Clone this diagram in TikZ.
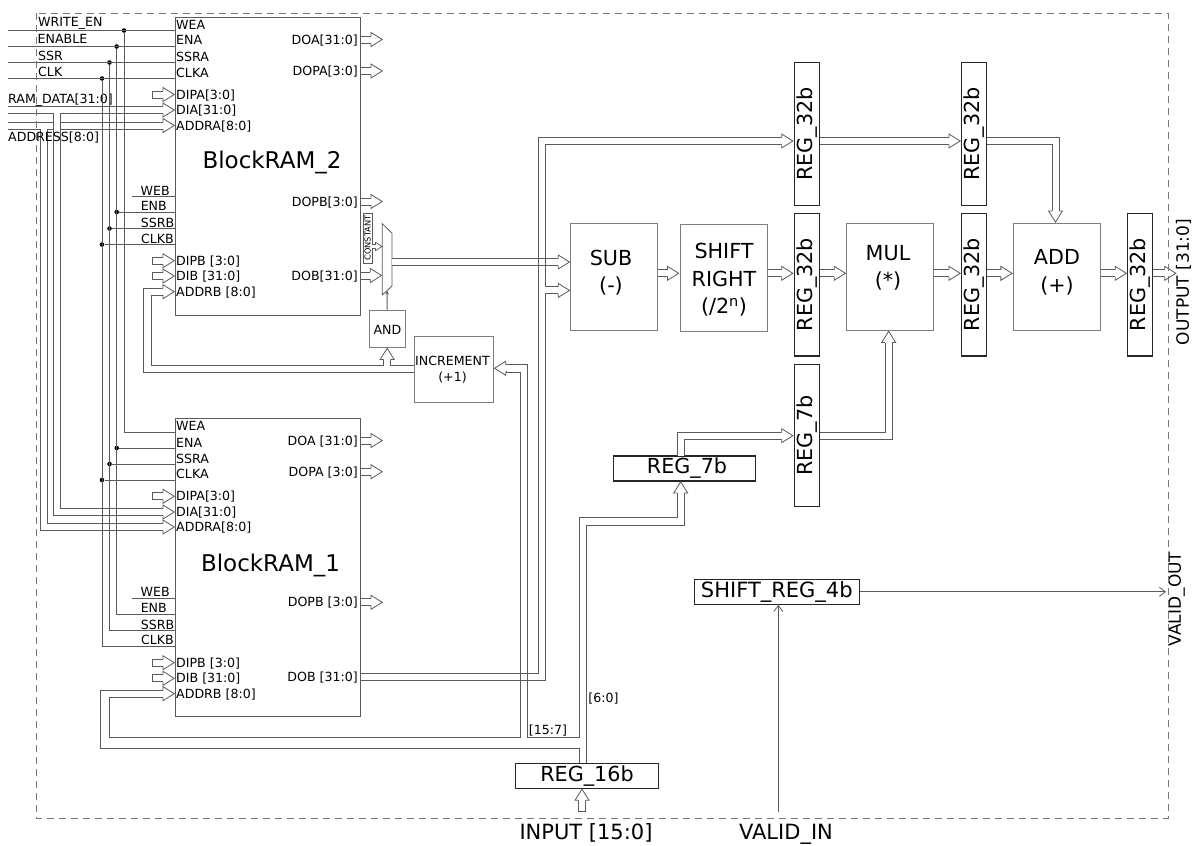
\documentclass[tikz,border=0pt]{standalone}
\usepackage{fontspec}
\setmainfont{DejaVu Sans}
\usetikzlibrary{arrows,arrows.meta,positioning,calc}
\definecolor{wiregray}{RGB}{90,90,90}
\definecolor{boxgray}{RGB}{125,125,125}
\definecolor{framegray}{RGB}{120,120,120}

% hollow bus arrow heads
\pgfarrowsdeclare{bushead}{bushead}
{\pgfarrowsleftextend{0pt}\pgfarrowsrightextend{12pt}}
{\pgfsetlinewidth{0.8pt}\pgfsetmiterjoin
 \pgfsetfillcolor{white}
 \pgfpathmoveto{\pgfpoint{0pt}{7pt}}\pgfpathlineto{\pgfpoint{11.2pt}{0pt}}\pgfpathlineto{\pgfpoint{0pt}{-7pt}}\pgfpathclose
 \pgfusepathqfill
 \pgfpathmoveto{\pgfpoint{0pt}{3.5pt}}\pgfpathlineto{\pgfpoint{0pt}{7pt}}\pgfpathlineto{\pgfpoint{11.2pt}{0pt}}\pgfpathlineto{\pgfpoint{0pt}{-7pt}}\pgfpathlineto{\pgfpoint{0pt}{-3.5pt}}
 \pgfusepathqstroke}
\pgfarrowsdeclare{busheadsmall}{busheadsmall}
{\pgfarrowsleftextend{0pt}\pgfarrowsrightextend{7pt}}
{\pgfsetlinewidth{0.7pt}\pgfsetmiterjoin
 \pgfsetfillcolor{white}
 \pgfpathmoveto{\pgfpoint{0pt}{4.2pt}}\pgfpathlineto{\pgfpoint{6.4pt}{0pt}}\pgfpathlineto{\pgfpoint{0pt}{-4.2pt}}\pgfpathclose
 \pgfusepathqfill
 \pgfpathmoveto{\pgfpoint{0pt}{2pt}}\pgfpathlineto{\pgfpoint{0pt}{4.2pt}}\pgfpathlineto{\pgfpoint{6.4pt}{0pt}}\pgfpathlineto{\pgfpoint{0pt}{-4.2pt}}\pgfpathlineto{\pgfpoint{0pt}{-2pt}}
 \pgfusepathqstroke}
\pgfarrowsdeclare{bustail}{bustail}
{\pgfarrowsleftextend{0.4pt}\pgfarrowsrightextend{0pt}}
{\pgfsetlinewidth{0.8pt}
 \pgfpathmoveto{\pgfpoint{0pt}{4pt}}\pgfpathlineto{\pgfpoint{0pt}{-4pt}}
 \pgfusepathqstroke}

\begin{document}
\begin{tikzpicture}[
    x=1pt, y=-1pt,
    ramblock/.style={rectangle, draw=wiregray, line width=1pt, inner sep=0pt, minimum width=185pt, minimum height=298pt},
    alublock/.style={rectangle, draw=boxgray, line width=0.9pt, inner sep=0pt},
    regv/.style={rectangle, draw=black!85, line width=1.1pt, inner sep=0pt, minimum width=25pt, font=\fontsize{20.7}{24}\selectfont},
    regh/.style={rectangle, draw=black!85, line width=1.1pt, inner sep=0pt, minimum height=25pt, font=\fontsize{20.7}{24}\selectfont},
    ramname/.style={inner sep=0pt, font=\fontsize{23}{27}\selectfont},
    blocktxt/.style={inner sep=0pt, align=center, font=\fontsize{20.7}{27.5}\selectfont},
    smalltxt/.style={inner sep=0pt, align=center, font=\fontsize{12.6}{16}\selectfont},
    outsidetxt/.style={inner sep=0pt, font=\fontsize{21}{24}\selectfont},
    sidetxt/.style={inner sep=0pt, font=\fontsize{17}{20}\selectfont},
    portl/.style={anchor=west, inner ysep=0pt, inner xsep=1pt, text height=9.2pt, text depth=0pt, font=\fontsize{12.6}{15}\selectfont},
    portr/.style={anchor=east, inner ysep=0pt, inner xsep=1pt, text height=9.2pt, text depth=0pt, font=\fontsize{12.6}{15}\selectfont},
    jdot/.style={circle, fill=black, inner sep=0pt, minimum size=4.6pt},
    wire/.style={draw=wiregray, line width=0.8pt},
    sigwire/.style={draw=wiregray, line width=0.8pt, -{Straight Barb[length=6pt,width=9pt]}},
    buswire/.style={draw=wiregray, line width=1pt, double=white, double distance=6pt, -bushead},
    busstub/.style={buswire, bustail-bushead},
    constbus/.style={draw=wiregray, line width=1pt, double=white, double distance=3pt, -busheadsmall},
    frame/.style={draw=framegray, line width=0.9pt, dash pattern=on 7pt off 5pt}
]
\useasboundingbox (0,0) rectangle (1200,846);

% Memories
\node[ramblock] (ramtwo) at (267.5,166) {};
\node[ramblock] (ramone) at (267.5,567.5) {};
\node[ramname] (ramtwoname) at (272,162) {BlockRAM\_2};
\node[ramname] (ramonename) at (270.5,565) {BlockRAM\_1};

% Ports of BlockRAM_2
\node[portl] (r2wea) at (175,24.5) {WEA};
\node[portl] (r2ena) at (175,40) {ENA};
\node[portl] (r2ssra) at (175,57) {SSRA};
\node[portl] (r2clka) at (175,72.5) {CLKA};
\node[portl] (r2dipa) at (175,94.5) {DIPA[3:0]};
\node[portl] (r2dia) at (175,110) {DIA[31:0]};
\node[portl] (r2addra) at (175,125.5) {ADDRA[8:0]};
\node[portr] (r2web) at (171,190.5) {WEB};
\node[portr] (r2enb) at (168,206) {ENB};
\node[portr] (r2ssrb) at (175.5,223) {SSRB};
\node[portr] (r2clkb) at (175,239) {CLKB};
\node[portl] (r2dipb) at (175,260.7) {DIPB [3:0]};
\node[portl] (r2dib) at (175,276) {DIB [31:0]};
\node[portl] (r2addrb) at (175,291.7) {ADDRB [8:0]};
\node[portr] (r2doa) at (359,39.5) {DOA[31:0]};
\node[portr] (r2dopa) at (359,71) {DOPA[3:0]};
\node[portr] (r2dopb) at (359,201.5) {DOPB[3:0]};
\node[portr] (r2dob) at (359,275.5) {DOB[31:0]};

% Ports of BlockRAM_1
\node[portl] (r1wea) at (175,426) {WEA};
\node[portl] (r1ena) at (175,442.5) {ENA};
\node[portl] (r1ssra) at (175,458.7) {SSRA};
\node[portl] (r1clka) at (175,474) {CLKA};
\node[portl] (r1dipa) at (175,496.3) {DIPA[3:0]};
\node[portl] (r1dia) at (175,512) {DIA[31:0]};
\node[portl] (r1addra) at (175,527) {ADDRA[8:0]};
\node[portr] (r1web) at (171,592) {WEB};
\node[portr] (r1enb) at (168,608) {ENB};
\node[portr] (r1ssrb) at (175.5,624.7) {SSRB};
\node[portr] (r1clkb) at (175,640) {CLKB};
\node[portl] (r1dipb) at (175,662.7) {DIPB [3:0]};
\node[portl] (r1dib) at (175,678.3) {DIB [31:0]};
\node[portl] (r1addrb) at (175,693.7) {ADDRB [8:0]};
\node[portr] (r1doa) at (359,440.5) {DOA [31:0]};
\node[portr] (r1dopa) at (359,471.7) {DOPA [3:0]};
\node[portr] (r1dopb) at (359,602.3) {DOPB [3:0]};
\node[portr] (r1dob) at (359,676.5) {DOB [31:0]};

% Outside signals
\coordinate (wrenin) at (8,30.5);
\coordinate (enin) at (8,46.5);
\coordinate (ssrin) at (8,62.5);
\coordinate (clkin) at (8,78.5);
\coordinate (datain) at (8,110);
\coordinate (addrin) at (8,125.5);
\coordinate (datatap) at (56.5,113);
\coordinate (addrtap) at (43.5,129);

% Multiplexer and small gates
\node[inner sep=0pt, minimum width=9.2pt, minimum height=70.7pt] (mux) at (387.1,259.3) {};
\draw[wire, fill=white] (mux.north west) -- ($(mux.north east)+(0,9.3)$) -- ($(mux.south east)+(0,-8.7)$) -- (mux.south west) -- cycle;
\node[rectangle, draw=wiregray, line width=0.7pt, inner sep=0pt, minimum width=8.5pt, minimum height=50pt, font=\fontsize{8.2}{9}\selectfont] (constbox) at (367.7,238) {\rotatebox{90}{CONSTANT}};
\node[alublock, minimum width=35.7pt, minimum height=36.3pt] (andgate) at (387.15,328.85) {};
\node[smalltxt] (andtxt) at (387.5,330) {AND};
\node[alublock, minimum width=79.4pt, minimum height=66.3pt] (inc) at (454,369.15) {};
\node[smalltxt] (inctxt) at (452.5,369.7) {INCREMENT\\(+1)};

% Processing chain
\node[alublock, minimum width=87pt, minimum height=106.7pt] (sub) at (614.2,276.7) {};
\node[blocktxt] (subtxt) at (611,272.5) {SUB\\(-)};
\node[alublock, minimum width=87.3pt, minimum height=107pt] (shiftr) at (723.6,277.5) {};
\node[blocktxt] (shifttxt) at (724,280) {SHIFT\\RIGHT\\(/2\textsuperscript{n})};
\node[alublock, minimum width=87pt, minimum height=106.7pt] (mul) at (890.2,276.7) {};
\node[blocktxt] (multxt) at (888,268) {MUL\\(*)};
\node[alublock, minimum width=87pt, minimum height=106.7pt] (adder) at (1056.8,276.7) {};
\node[blocktxt] (addtxt) at (1057,272.5) {ADD\\(+)};

% Registers
\node[regv, minimum height=142.6pt] (regtopa) at (806.7,134) {\rotatebox{90}{REG\_32b}};
\node[regv, minimum height=142.6pt] (regtopb) at (974,134) {\rotatebox{90}{REG\_32b}};
\node[regv, minimum height=142.6pt] (regsub) at (806.7,284.7) {\rotatebox{90}{REG\_32b}};
\node[regv, minimum height=142.6pt] (regmul) at (974,284.7) {\rotatebox{90}{REG\_32b}};
\node[regv, minimum height=142.6pt] (regadd) at (1140.2,284.7) {\rotatebox{90}{REG\_32b}};
\node[regv, minimum height=142pt] (regsevenv) at (806.7,435.7) {\rotatebox{90}{REG\_7b}};
\node[regh, minimum width=142.4pt] (regsevenh) at (684.5,468.5) {\hspace*{5pt}REG\_7b};
\node[regh, minimum width=142.6pt] (regsixteen) at (587,776) {REG\_16b};
\node[regh, minimum width=165pt, font=\fontsize{21}{24}\selectfont] (regvalid) at (776.8,591.8) {SHIFT\_REG\_4b};

% Labels round the frame
\node[outsidetxt] (inputlab) at (586,833) {INPUT [15:0]};
\node[outsidetxt] (validinlab) at (786,834) {VALID\_IN};
\node[sidetxt] (outputlab) at (1183.5,282) {\rotatebox{90}{OUTPUT [31:0]}};
\node[sidetxt] (validoutlab) at (1176.5,599) {\rotatebox{90}{VALID\_OUT}};
\node[smalltxt] (hilab) at (548,730.5) {[15:7]};
\node[smalltxt] (lolab) at (603.5,698.5) {[6:0]};

% Free ends and bends
\coordinate (chain) at (0,273.3);
\coordinate (feed) at (541.7,141);
\coordinate (feedtap) at (545,290.4);
\coordinate (muxout) at (391.7,262);
\coordinate (constout) at (382.5,246.5);
\coordinate (outend) at (1176.7,273.3);
\coordinate (topbend) at (1055.5,141);
\coordinate (sevenbend) at (888.7,435.7);
\coordinate (sevenin) at (680.7,481);
\coordinate (sevenout) at (680.7,456);
\coordinate (sixteenin) at (582,788.3);
\coordinate (inputin) at (582,811);
\coordinate (incin) at (493.7,368.3);
\coordinate (validin) at (778.3,812);
\coordinate (validend) at (1166,591.8);

% Data buses into the memories
\draw[buswire] (datain) -- (r2dia.west);
\draw[buswire] (addrin) -- (r2addra.west);
\draw[buswire] (datatap) |- (r1dia.west);
\draw[buswire] (addrtap) |- (r1addra.west);
\node[portl] (datalab) at (7,98.5) {RAM\_DATA[31:0]};
\node[portl] (addrlab) at (7,137) {ADDRESS[8:0]};

% Bus stubs left
\draw[busstub] ([xshift=-23pt]r2dipa.west) -- (r2dipa.west);
\draw[busstub] ([xshift=-23pt]r2dipb.west) -- (r2dipb.west);
\draw[busstub] ([xshift=-23pt]r2dib.west) -- (r2dib.west);
\draw[busstub] ([xshift=-23pt]r1dipa.west) -- (r1dipa.west);
\draw[busstub] ([xshift=-23pt]r1dipb.west) -- (r1dipb.west);
\draw[busstub] ([xshift=-23pt]r1dib.west) -- (r1dib.west);

% Bus stubs right
\draw[buswire] (r2doa -| ramtwo.east) -- ([xshift=24pt]r2doa.east);
\draw[buswire] (r2dopa -| ramtwo.east) -- ([xshift=24pt]r2dopa.east);
\draw[buswire] (r2dopb -| ramtwo.east) -- ([xshift=24pt]r2dopb.east);
\draw[buswire] (r1doa -| ramone.east) -- ([xshift=24pt]r1doa.east);
\draw[buswire] (r1dopa -| ramone.east) -- ([xshift=24pt]r1dopa.east);
\draw[buswire] (r1dopb -| ramone.east) -- ([xshift=24pt]r1dopb.east);

% Control lines
\node[portl] (wrenlab) at (37,22) {WRITE\_EN};
\node[portl] (enlab) at (36.5,38.5) {ENABLE};
\node[portl] (ssrlab) at (37,56) {SSR};
\node[portl] (clklab) at (37,72) {CLK};
\node[jdot] (dotwea) at (124,30.5) {};
\node[jdot] (dotena) at (116.7,46.5) {};
\node[jdot] (dotssr) at (109.5,62.5) {};
\node[jdot] (dotclk) at (102,78.5) {};
\node[jdot] (dottwoenb) at (116.7,212) {};
\node[jdot] (dottwossr) at (109.5,228.5) {};
\node[jdot] (dottwoclk) at (102,244.5) {};
\node[jdot] (dotoneena) at (116.7,448) {};
\node[jdot] (dotonessr) at (109.5,464) {};
\node[jdot] (dotoneclk) at (102,480) {};
\coordinate (r1weaend) at (175,432);
\coordinate (r1enbend) at (175,614);
\coordinate (r1ssrend) at (175,630);
\coordinate (r1clkend) at (175,646);
\coordinate (r2webstart) at (132,196.5);
\coordinate (r1webstart) at (132,598);
\draw[wire] (wrenin) -- (wrenin -| ramtwo.west);
\draw[wire] (enin) -- (enin -| ramtwo.west);
\draw[wire] (ssrin) -- (ssrin -| ramtwo.west);
\draw[wire] (clkin) -- (clkin -| ramtwo.west);
\draw[wire] (dotwea) |- (r1weaend);
\draw[wire] (dotena) |- (r1enbend);
\draw[wire] (dotssr) |- (r1ssrend);
\draw[wire] (dotclk) |- (r1clkend);
\draw[wire] (r2webstart) -- (r2webstart -| ramtwo.west);
\draw[wire] (dottwoenb) -- (dottwoenb -| ramtwo.west);
\draw[wire] (dottwossr) -- (dottwossr -| ramtwo.west);
\draw[wire] (dottwoclk) -- (dottwoclk -| ramtwo.west);
\draw[wire] (dotoneena) -- (dotoneena -| ramone.west);
\draw[wire] (dotonessr) -- (dotonessr -| ramone.west);
\draw[wire] (dotoneclk) -- (dotoneclk -| ramone.west);
\draw[wire] (r1webstart) -- (r1webstart -| ramone.west);

% Multiplexer inputs, output, select
\draw[constbus] (constbox.east |- constout) -- (constout);
\draw[buswire] (r2dob -| ramtwo.east) -- (r2dob -| mux.west);
\draw[wire, ->, >=stealth] (andgate.north) -- ([yshift=4.3pt]mux.south);

% Feed from BlockRAM_1 to the chain
\draw[buswire] (r1dob -| ramone.east) -| (feed) -- (feed -| regtopa.west);
\draw[buswire] (feedtap) -- (feedtap -| sub.west);
\draw[buswire] (muxout) -- (muxout -| sub.west);
\draw[wire] ([xshift=-3.5pt,yshift=4.5pt]feed |- muxout) -- ([xshift=-3.5pt,yshift=-4.5pt]feed |- muxout);
\draw[wire] ([xshift=3.5pt,yshift=4.5pt]feed |- muxout) -- ([xshift=3.5pt,yshift=-4.5pt]feed |- muxout);

% Chain
\draw[buswire] (sub.east |- chain) -- (shiftr.west |- chain);
\draw[buswire] (shiftr.east |- chain) -- (regsub.west |- chain);
\draw[buswire] (regsub.east |- chain) -- (mul.west |- chain);
\draw[buswire] (mul.east |- chain) -- (regmul.west |- chain);
\draw[buswire] (regmul.east |- chain) -- (adder.west |- chain);
\draw[buswire] (adder.east |- chain) -- (regadd.west |- chain);
\draw[buswire] (regadd.east |- chain) -- (outend);
\draw[buswire] (feed -| regtopa.east) -- (feed -| regtopb.west);
\draw[buswire] (feed -| regtopb.east) -- (topbend) -- (topbend |- adder.north);
\draw[buswire] (sevenout) |- (regsevenv.west);
\draw[buswire] (regsevenv.east) -- (sevenbend) -- (sevenbend |- mul.south);

% Input register
\draw[busstub] (inputin) -- (sixteenin);

% Lines split off REG_16b, one line of the bus each way
\coordinate (splita) at (579.5,748);
\coordinate (splitb) at (100.3,748);
\coordinate (splitc) at (100.3,690);
\coordinate (splitd) at (163,690);
\draw[wire] (splita |- regsixteen.north) -- (splita) -- (splitb) -- (splitc) -- (splitd);
\coordinate (backa) at (163,697.4);
\coordinate (backb) at (109.5,697.4);
\coordinate (backc) at (109.5,737.7);
\coordinate (backd) at (520.3,737.7);
\coordinate (backe) at (520.3,372);
\coordinate (backf) at (505.7,372);
\draw[wire] (backa) -- (backb) -- (backc) -- (backd) -- (backe) -- (backf);
\coordinate (upa) at (505.7,364.7);
\coordinate (upb) at (527.3,364.7);
\coordinate (upc) at (527.3,737.7);
\coordinate (upd) at (579.5,737.7);
\coordinate (upe) at (579.5,517.7);
\coordinate (upf) at (677.1,517.7);
\coordinate (upg) at (677.1,493);
\draw[wire] (upa) -- (upb) -- (upc) -- (upd) -- (upe) -- (upf) -- (upg);
\coordinate (lowa) at (586.3,525);
\coordinate (lowb) at (684.3,525);
\coordinate (lowc) at (684.3,493);
\draw[wire] (lowa |- regsixteen.north) -- (lowa) -- (lowb) -- (lowc);
\draw[buswire] ([xshift=-13pt]r1addrb.west) -- (r1addrb.west);
\draw[buswire] ([xshift=13pt]incin) -- (incin);
\draw[buswire] ([yshift=-13pt]sevenin) -- (sevenin);

% Increment output to the address of BlockRAM_2
\coordinate (adra) at (414.3,372);
\coordinate (adrb) at (143,372);
\coordinate (adrc) at (143,288);
\coordinate (adrd) at (163,288);
\draw[wire] (adra) -- (adrb) -- (adrc) -- (adrd);
\coordinate (adre) at (163,295.4);
\coordinate (adrf) at (151,295.4);
\coordinate (adrg) at (151,365);
\coordinate (adrh) at (383.6,365);
\coordinate (adri) at (383.6,359);
\draw[wire] (adre) -- (adrf) -- (adrg) -- (adrh) -- (adri);
\coordinate (adrj) at (390.8,359);
\coordinate (adrk) at (390.8,365);
\coordinate (adrl) at (414.3,365);
\draw[wire] (adrj) -- (adrk) -- (adrl);
\draw[buswire] ([xshift=-13pt]r2addrb.west) -- (r2addrb.west);
\draw[buswire] ([yshift=-13pt]andgate.south) -- (andgate.south);

% Valid path
\draw[sigwire] (validin) -- (validin |- regvalid.south);
\draw[sigwire] (regvalid.east) -- (validend);

% Frame of the whole design
\draw[frame] (36,13) rectangle (1168,818);

\end{tikzpicture}
\end{document}
